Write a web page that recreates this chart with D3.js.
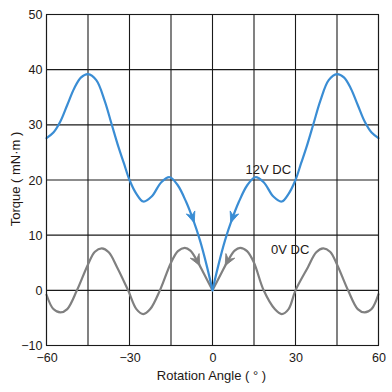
<!DOCTYPE html>
<html>
<head>
<meta charset="utf-8">
<script src="https://cdn.jsdelivr.net/npm/d3@7"></script>
<style>
  html, body { margin: 0; padding: 0; background: #fff; }
  svg { display: block; }
  text { font-family: "Liberation Sans", Arial, Helvetica, sans-serif; fill: #231815; }
</style>
</head>
<body>
<svg id="chart" width="392" height="392"></svg>
<script>
// ---- data ----
const angles12 = [-60,-57.5,-55,-52.5,-50,-47.5,-45,-42,-39,-36.5,-34,-32,-30,-27.5,-25,-22,-18.5,-15.5,-12.5,-9.5,-7,-4.5,-2,0,
                  2,4.5,7,9.5,12.5,15.5,18.5,22,25,27.5,30,32,34,36.5,39,42,45,47.5,50,52.5,55,57.5,60];
const torque12 = [27.6,28.6,30.6,33.6,36.6,38.6,39.2,38.1,34.4,30.2,26.0,23.0,20.0,17.5,16.1,17.0,19.6,20.5,19.0,16.0,12.8,9.0,4.3,0,
                  4.3,9.0,12.8,16.0,19.0,20.5,19.6,17.0,16.1,17.5,20.0,23.0,26.0,30.2,34.4,38.1,39.2,38.6,36.6,33.6,30.6,28.6,27.6];

const angles0 = [-60,-57.5,-55,-52.5,-49,-45,-42.5,-40,-37.5,-34.5,-30.5,-27.5,-25,-22.5,-19,-15,-12.5,-10,-8,-5.5,-3,0,
                 3,5.5,8,10,12.5,15,18.5,22.5,25,27.5,30,34.5,37.5,40,42.5,45,49,52.5,55,57.5,60];
const torque0 = [-0.8,-3.4,-4.0,-3.4,0,4.7,7.0,7.6,6.9,4.2,0,-3.4,-4.3,-3.4,0,5.0,7.1,7.7,7.2,5.3,2.9,0,
                 2.9,5.3,7.2,7.7,7.1,5.0,0,-3.4,-4.3,-3.4,0,4.2,6.9,7.6,7.0,4.7,0,-3.4,-4.0,-3.4,-0.7];

const xTicks = [-60,-30,0,30,60];
const xGrid  = [-60,-45,-30,-15,0,15,30,45,60];
const yTicks = [-10,0,10,20,30,40,50];

const seriesNames = ["12V DC","0V DC"];
const arrowAngles12 = [-6.6, 6.6];
const arrowAngles0  = [-4.6, 4.6];

// ---- layout ----
const svg = d3.select("#chart");
const mLeft = 46.5, mRight = 378.5, mTop = 14.5, mBottom = 345.5;
const x = d3.scaleLinear().domain([-60,60]).range([mLeft,mRight]);
const y = d3.scaleLinear().domain([-10,50]).range([mBottom,mTop]);

const blue = "#3a8dd4", gray = "#808080", ink = "#1a1a1a";

// grid
const g = svg.append("g");
g.selectAll("line.vx").data(xGrid).join("line")
  .attr("x1", d => x(d)).attr("x2", d => x(d))
  .attr("y1", mTop).attr("y2", mBottom)
  .attr("stroke", ink).attr("stroke-width", 1.1);
g.selectAll("line.hy").data(yTicks).join("line")
  .attr("x1", mLeft).attr("x2", mRight)
  .attr("y1", d => y(d)).attr("y2", d => y(d))
  .attr("stroke", ink).attr("stroke-width", 1.1);

// axes (labels only, via d3 axis)
const yAxis = d3.axisLeft(y).tickValues(yTicks).tickSize(0).tickPadding(4)
  .tickFormat(d => d < 0 ? "\u2212" + Math.abs(d) : d);
const ya = svg.append("g").attr("transform", `translate(${mLeft},0)`).call(yAxis);
ya.select(".domain").remove();
ya.selectAll("text").attr("font-size", 12.5).attr("fill", "#231815")
  .style("font-family", "'Liberation Sans', Arial, sans-serif");

const xAxis = d3.axisBottom(x).tickValues(xTicks).tickSize(0).tickPadding(8)
  .tickFormat(d => d < 0 ? "\u2212" + Math.abs(d) : d);
const xa = svg.append("g").attr("transform", `translate(0,${mBottom})`).call(xAxis);
xa.select(".domain").remove();
xa.selectAll("text").attr("font-size", 12.5).attr("fill", "#231815")
  .style("font-family", "'Liberation Sans', Arial, sans-serif");

// axis titles
svg.append("text").attr("x", 211.5).attr("y", 380).attr("text-anchor", "middle")
  .attr("font-size", 13).text("Rotation Angle ( ° )");
svg.append("text").attr("transform", "translate(19.5,179) rotate(-90)").attr("text-anchor", "middle")
  .attr("font-size", 13).text("Torque ( mN·m )");

// curves: split each series into left and right branches at the cusp (0)
const line = d3.line().x(d => x(d[0])).y(d => y(d[1])).curve(d3.curveCatmullRom.alpha(0.5));
function branches(angles, values) {
  const pts = angles.map((a, i) => [a, values[i]]);
  return [pts.filter(p => p[0] <= 0), pts.filter(p => p[0] >= 0)];
}

function drawSeries(angles, values, color, arrowAngles, head) {
  const [lb, rb] = branches(angles, values);
  const paths = [lb, rb].map(b => svg.append("path").attr("d", line(b))
    .attr("fill", "none").attr("stroke", color).attr("stroke-width", 2.2)
    .attr("stroke-linejoin", "round").attr("stroke-linecap", "round"));
  arrowAngles.forEach(a => {
    const node = (a < 0 ? paths[0] : paths[1]).node();
    const L = node.getTotalLength();
    const tx = x(a);
    let lo = 0, hi = L;
    for (let k = 0; k < 40; k++) {
      const mid = (lo + hi) / 2;
      if (node.getPointAtLength(mid).x < tx) lo = mid; else hi = mid;
    }
    const l = (lo + hi) / 2;
    const p = node.getPointAtLength(l);
    const p1 = node.getPointAtLength(Math.max(0, l - 2));
    const p2 = node.getPointAtLength(Math.min(L, l + 2));
    let ang = Math.atan2(p2.y - p1.y, p2.x - p1.x) * 180 / Math.PI;
    if (a > 0) ang += 180;
    svg.append("path")
      .attr("d", `M0,0 L${-head.len},${-head.w} L${-head.len + head.notch},0 L${-head.len},${head.w} Z`)
      .attr("transform", `translate(${p.x},${p.y}) rotate(${ang})`)
      .attr("fill", color).attr("stroke", color).attr("stroke-width", 0.8).attr("stroke-linejoin", "miter");
  });
}

drawSeries(angles0, torque0, gray, arrowAngles0, {len: 11, w: 5, notch: 4});
drawSeries(angles12, torque12, blue, arrowAngles12, {len: 11, w: 4.5, notch: 3.5});

// frame
svg.append("rect").attr("x", mLeft).attr("y", mTop).attr("width", mRight - mLeft).attr("height", mBottom - mTop)
  .attr("fill", "none").attr("stroke", ink).attr("stroke-width", 1.1);

// series labels
svg.append("text").attr("x", 245.5).attr("y", 173.5).attr("font-size", 13).text(seriesNames[0]);
svg.append("text").attr("x", 271).attr("y", 254).attr("font-size", 13).text(seriesNames[1]);
</script>
</body>
</html>
